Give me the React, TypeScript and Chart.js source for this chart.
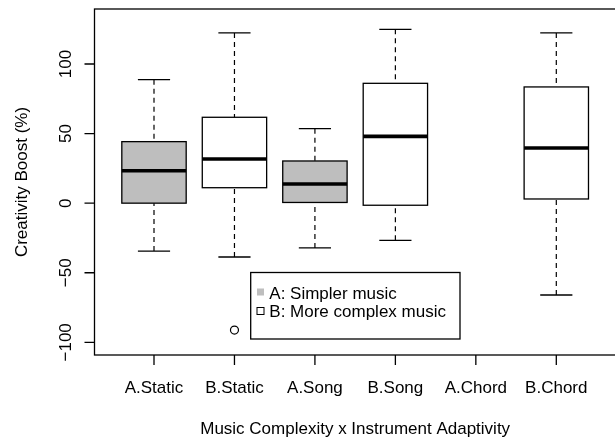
import React, { useEffect, useRef } from "react";
import { Chart, registerables } from "chart.js";

Chart.register(...registerables);

const categories = ["A.Static", "B.Static", "A.Song", "B.Song", "A.Chord", "B.Chord"];
const whiskerLow = [-34.4, -38.7, -32.2, -26.7, null, -66.0];
const q1 = [0.0, 11.1, 0.5, -1.5, null, 3.0];
const median = [23.3, 31.7, 13.8, 48.0, null, 39.6];
const q3 = [44.2, 61.7, 30.3, 86.1, null, 83.5];
const whiskerHigh = [88.7, 122.3, 53.5, 124.9, null, 122.3];
const fills = ["#BEBEBE", "#FFFFFF", "#BEBEBE", "#FFFFFF", "#BEBEBE", "#FFFFFF"];
const outliers = [{ x: 2, y: -91.2 }];
const yTicks = [-100, -50, 0, 50, 100];
const legendLabels = ["A: Simpler music", "B: More complex music"];
const legendFills = ["#BEBEBE", "#FFFFFF"];
const xTitle = "Music Complexity x Instrument Adaptivity";
const yTitle = "Creativity Boost (%)";

const FONT = '17px "Liberation Sans", Arial, Helvetica, sans-serif';

const boxPlugin = {
  id: "rbox",
  beforeDatasetsDraw(chart: any) {
    const ctx = chart.ctx as CanvasRenderingContext2D;
    const xs = chart.scales.x;
    const ys = chart.scales.y;
    ctx.save();
    categories.forEach((_, i) => {
      if (median[i] === null) return;
      const xc = xs.getPixelForValue(i + 1);
      const xl = xs.getPixelForValue(i + 1 - 0.4);
      const xr = xs.getPixelForValue(i + 1 + 0.4);
      const cl = xs.getPixelForValue(i + 1 - 0.2);
      const cr = xs.getPixelForValue(i + 1 + 0.2);
      const yLo = ys.getPixelForValue(whiskerLow[i] as number);
      const yQ1 = ys.getPixelForValue(q1[i] as number);
      const yMed = ys.getPixelForValue(median[i] as number);
      const yQ3 = ys.getPixelForValue(q3[i] as number);
      const yHi = ys.getPixelForValue(whiskerHigh[i] as number);
      ctx.strokeStyle = "#000";
      ctx.lineWidth = 1.2;
      ctx.setLineDash([5, 4]);
      ctx.beginPath();
      ctx.moveTo(xc, yHi);
      ctx.lineTo(xc, yQ3);
      ctx.moveTo(xc, yLo);
      ctx.lineTo(xc, yQ1);
      ctx.stroke();
      ctx.setLineDash([]);
      ctx.lineWidth = 1.3;
      ctx.beginPath();
      ctx.moveTo(cl, yHi);
      ctx.lineTo(cr, yHi);
      ctx.moveTo(cl, yLo);
      ctx.lineTo(cr, yLo);
      ctx.stroke();
      ctx.fillStyle = fills[i];
      ctx.fillRect(xl, yQ3, xr - xl, yQ1 - yQ3);
      ctx.lineWidth = 1.3;
      ctx.strokeRect(xl, yQ3, xr - xl, yQ1 - yQ3);
      ctx.lineWidth = 3.6;
      ctx.beginPath();
      ctx.moveTo(xl, yMed);
      ctx.lineTo(xr, yMed);
      ctx.stroke();
    });
    ctx.restore();
  },
  afterDraw(chart: any) {
    const ctx = chart.ctx as CanvasRenderingContext2D;
    const xs = chart.scales.x;
    const ys = chart.scales.y;
    const area = chart.chartArea;
    ctx.save();
    ctx.strokeStyle = "#000";
    ctx.lineWidth = 1.3;
    const rightEdge = xs.getPixelForValue(6.74);
    ctx.strokeRect(area.left, area.top, rightEdge - area.left, area.bottom - area.top);
    ctx.fillStyle = "#000";
    ctx.font = FONT;
    ctx.beginPath();
    yTicks.forEach((v) => {
      const y = ys.getPixelForValue(v);
      ctx.moveTo(area.left, y);
      ctx.lineTo(area.left - 10, y);
    });
    categories.forEach((_, i) => {
      const x = xs.getPixelForValue(i + 1);
      ctx.moveTo(x, area.bottom);
      ctx.lineTo(x, area.bottom + 10);
    });
    ctx.stroke();
    ctx.textAlign = "center";
    ctx.textBaseline = "alphabetic";
    yTicks.forEach((v) => {
      const y = ys.getPixelForValue(v);
      ctx.save();
      ctx.translate(71, y);
      ctx.rotate(-Math.PI / 2);
      ctx.fillText(v < 0 ? "\u2212" + Math.abs(v) : String(v), 0, 0);
      ctx.restore();
    });
    categories.forEach((c, i) => {
      const x = xs.getPixelForValue(i + 1);
      ctx.fillText(c, x, 392.5);
    });
    const cx = (area.left + rightEdge) / 2;
    ctx.fillText(xTitle, cx, 434);
    ctx.save();
    ctx.translate(27, (area.top + area.bottom) / 2);
    ctx.rotate(-Math.PI / 2);
    ctx.fillText(yTitle, 0, 0);
    ctx.restore();
    const lx = 250.7, ly = 272.5, lw = 209.3, lh = 66.5;
    ctx.fillStyle = "#FFFFFF";
    ctx.fillRect(lx, ly, lw, lh);
    ctx.lineWidth = 1.3;
    ctx.strokeRect(lx, ly, lw, lh);
    ctx.textAlign = "left";
    legendLabels.forEach((t, i) => {
      const base = 299.3 + i * 18;
      const sy = 292 + i * 19;
      ctx.fillStyle = legendFills[i];
      ctx.fillRect(257, sy - 3.5, 7, 7);
      if (i === 1) {
        ctx.lineWidth = 1;
        ctx.strokeStyle = "#000";
        ctx.strokeRect(257, sy - 3.5, 7, 7);
      }
      ctx.fillStyle = "#000";
      ctx.fillText(t, 269.3, base);
    });
    ctx.restore();
  },
};

export default function App() {
  const ref = useRef<HTMLCanvasElement>(null);
  useEffect(() => {
    document.body.style.margin = "0";
    const canvas = ref.current!;
    const left = 94.5;
    const unitX = 80.46;
    const xMin = 1 - (154 - left) / unitX;
    const xMax = xMin + (615 - left) / unitX;
    const chart = new Chart(canvas, {
      type: "scatter",
      data: {
        datasets: [
          {
            data: outliers,
            pointStyle: "circle",
            pointRadius: 4,
            pointBorderWidth: 1.2,
            pointBorderColor: "#000",
            pointBackgroundColor: "rgba(0,0,0,0)",
          },
        ],
      },
      options: {
        responsive: false,
        animation: false,
        devicePixelRatio: 1,
        layout: { autoPadding: false, padding: { left: left, top: 9, right: 0, bottom: 84 } },
        plugins: { legend: { display: false }, tooltip: { enabled: false } },
        scales: {
          x: { type: "linear", min: xMin, max: xMax, display: false },
          y: { type: "linear", min: -109.1, max: 139.5, display: false },
        },
      },
      plugins: [boxPlugin],
    });
    return () => chart.destroy();
  }, []);
  return (
    <div style={{ position: "absolute", left: 0, top: 0, width: 615, height: 439, background: "#fff" }}>
      <canvas ref={ref} width={615} height={439} />
    </div>
  );
}
